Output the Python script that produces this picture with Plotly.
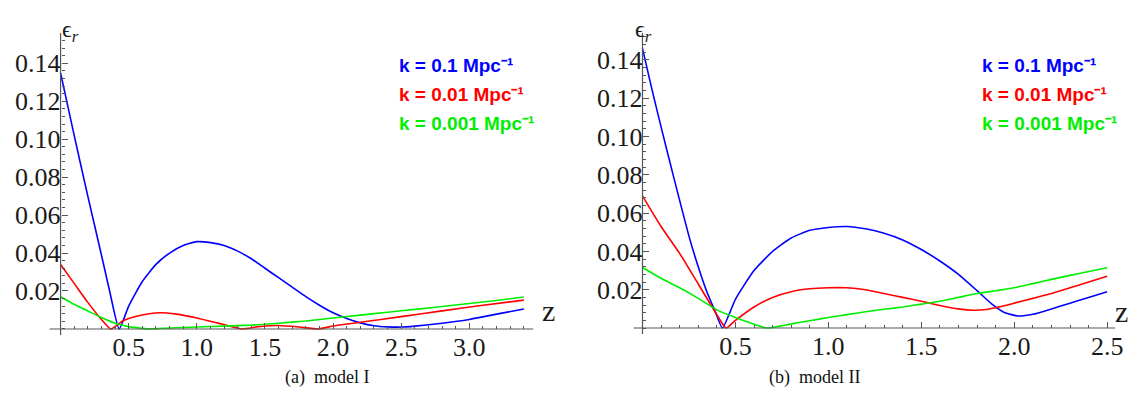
import plotly.graph_objects as go

# ---------------- data: model I ----------------
z1_blue = [0, 0.1, 0.2, 0.3, 0.36, 0.43, 0.5, 0.6, 0.7, 0.8, 0.9, 1.0, 1.1, 1.2, 1.3, 1.4, 1.5,
           1.6, 1.7, 1.8, 1.9, 2.0, 2.1, 2.2, 2.3, 2.4, 2.5, 2.6, 2.8, 3.0, 3.2, 3.4]
e1_blue = [0.135, 0.102, 0.070, 0.039, 0.020, 0.0, 0.012, 0.025, 0.034, 0.040, 0.044, 0.046,
           0.0455, 0.044, 0.041, 0.037, 0.032, 0.027, 0.022, 0.017, 0.0125, 0.0085, 0.0055, 0.0032,
           0.0017, 0.0011, 0.001, 0.0015, 0.003, 0.005, 0.0078, 0.0105]

z1_red = [0, 0.1, 0.2, 0.3, 0.37, 0.45, 0.55, 0.65, 0.73, 0.85, 1.0, 1.15, 1.33, 1.45, 1.6, 1.75,
          1.89, 2.0, 2.2, 2.5, 2.8, 3.1, 3.4]
e1_red = [0.034, 0.024, 0.014, 0.005, 0.0, 0.004, 0.0065, 0.008, 0.0085, 0.0078, 0.0058, 0.0032,
          0.0, 0.0012, 0.0018, 0.001, 0.0, 0.0015, 0.0035, 0.0065, 0.0095, 0.0125, 0.0152]

z1_green = [0, 0.1, 0.2, 0.3, 0.4, 0.5, 0.6, 0.66, 0.8, 1.0, 1.2, 1.4, 1.6, 1.8, 2.0, 2.2, 2.4, 2.6,
            2.8, 3.0, 3.2, 3.4]
e1_green = [0.017, 0.013, 0.0095, 0.006, 0.003, 0.0012, 0.0003, 0.0, 0.0005, 0.001, 0.0015, 0.002,
            0.003, 0.0042, 0.0058, 0.0073, 0.0088, 0.0103, 0.0118, 0.0134, 0.015, 0.0168]

# ---------------- data: model II ----------------
z2_blue = [0, 0.05, 0.1, 0.17, 0.25, 0.3, 0.35, 0.39, 0.43, 0.5, 0.6, 0.7, 0.8, 0.9, 1.0, 1.1, 1.2,
           1.3, 1.4, 1.5, 1.6, 1.7, 1.8, 1.88, 1.95, 2.02, 2.1, 2.2, 2.3, 2.4, 2.5]
e2_blue = [0.146, 0.125, 0.105, 0.078, 0.048, 0.032, 0.018, 0.009, 0.0, 0.015, 0.030, 0.040, 0.047,
           0.051, 0.0525, 0.053, 0.0518, 0.0495, 0.046, 0.041, 0.035, 0.028, 0.0195, 0.0125,
           0.0080, 0.0063, 0.0072, 0.0100, 0.0130, 0.0160, 0.019]

z2_red = [0, 0.1, 0.2, 0.3, 0.4, 0.45, 0.5, 0.6, 0.7, 0.8, 0.9, 1.0, 1.1, 1.2, 1.3, 1.4, 1.5, 1.6,
          1.7, 1.78, 1.85, 1.9, 2.0, 2.1, 2.2, 2.3, 2.4, 2.5]
e2_red = [0.069, 0.053, 0.039, 0.023, 0.007, 0.0, 0.004, 0.011, 0.016, 0.019, 0.0205, 0.021, 0.021,
          0.020, 0.018, 0.016, 0.014, 0.0118, 0.0100, 0.0093, 0.0097, 0.0106, 0.013, 0.0155, 0.018,
          0.021, 0.024, 0.027]

z2_green = [0, 0.1, 0.2, 0.3, 0.4, 0.5, 0.6, 0.67, 0.8, 0.9, 1.0, 1.1, 1.2, 1.3, 1.4, 1.5, 1.6, 1.7,
            1.8, 1.9, 2.0, 2.1, 2.2, 2.3, 2.4, 2.5]
e2_green = [0.0316, 0.026, 0.021, 0.0155, 0.0095, 0.0055, 0.002, 0.0, 0.0022, 0.0038, 0.0055, 0.007,
            0.0085, 0.0098, 0.011, 0.0125, 0.014, 0.016, 0.018, 0.0195, 0.021, 0.0232, 0.0254,
            0.0275, 0.0295, 0.0315]

legend_labels = ["k = 0.1 Mpc⁻¹", "k = 0.01 Mpc⁻¹", "k = 0.001 Mpc⁻¹"]
colors = ["#0000ff", "#ff0000", "#00ee00"]
captions = ["(a)  model I", "(b)  model II"]
x1_ticks = [0.5, 1.0, 1.5, 2.0, 2.5, 3.0]
x2_ticks = [0.5, 1.0, 1.5, 2.0, 2.5]
y_ticks = [0.02, 0.04, 0.06, 0.08, 0.10, 0.12, 0.14]

W, H = 1147, 408
SERIF = "Times New Roman, Liberation Serif, DejaVu Serif, serif"
fig = go.Figure()

panels = [
    ("x", "y", [(z1_blue, e1_blue), (z1_red, e1_red), (z1_green, e1_green)]),
    ("x2", "y2", [(z2_blue, e2_blue), (z2_red, e2_red), (z2_green, e2_green)]),
]
for xa, ya, series in panels:
    for (zz, ee), c in zip(series, colors):
        fig.add_trace(go.Scatter(x=zz, y=ee, mode="lines", xaxis=xa, yaxis=ya,
                                 line=dict(color=c, width=1.6, shape="spline", smoothing=0.5),
                                 showlegend=False, hoverinfo="skip"))

tickfont = dict(family=SERIF, size=26, color="#1a1a1a")
axcol = "#555555"

def xax(domain, rng, pos, tickvals):
    return dict(domain=domain, range=rng, anchor="free", position=pos,
                showline=False, zeroline=False, showgrid=False,
                tickmode="array", tickvals=tickvals, ticktext=[f"{v:.1f}" for v in tickvals],
                ticks="inside", ticklen=6, tickcolor=axcol, tickwidth=1,
                minor=dict(dtick=0.1, tick0=0, ticks="inside", ticklen=3, tickcolor=axcol),
                tickfont=tickfont, fixedrange=True)

def yax(domain, rng, pos):
    return dict(domain=domain, range=rng, anchor="free", position=pos,
                showline=False, zeroline=False, showgrid=False,
                tickmode="array", tickvals=y_ticks, ticktext=[f"{v:.2f}" for v in y_ticks],
                ticks="inside", ticklen=6, tickcolor=axcol, tickwidth=1,
                minor=dict(dtick=0.004, tick0=0, ticks="inside", ticklen=3, tickcolor=axcol),
                tickfont=tickfont, fixedrange=True)

# pixel geometry
L_y0, L_x0, L_xl, L_xr, L_top, L_bot = 61, 329, 50, 537, 33, 335
R_y0, R_x0, R_xl, R_xr, R_top, R_bot = 647, 328, 638, 1123, 33, 334

fig.update_layout(
    width=W, height=H, margin=dict(l=0, r=0, t=0, b=0),
    paper_bgcolor="white", plot_bgcolor="white",
    xaxis=xax([L_xl / W, L_xr / W], [-0.080, 3.469], 1 - L_x0 / H, x1_ticks),
    yaxis=yax([1 - L_bot / H, 1 - L_top / H], [-0.0032, 0.156], L_y0 / W),
    xaxis2=xax([R_xl / W, R_xr / W], [-0.048, 2.543], 1 - R_x0 / H, x2_ticks),
    yaxis2=yax([1 - R_bot / H, 1 - R_top / H], [-0.0031, 0.154], R_y0 / W),
)

# axis lines (drawn at the origin, like Mathematica axes)
for (y0, x0, xl, xr, top, bot) in [(L_y0, L_x0, L_xl, L_xr, L_top, L_bot),
                                   (R_y0, R_x0, R_xl, R_xr, R_top, R_bot)]:
    fig.add_shape(type="line", xref="paper", yref="paper", x0=xl / W, x1=xr / W,
                  y0=1 - x0 / H, y1=1 - x0 / H, line=dict(color=axcol, width=1.2))
    fig.add_shape(type="line", xref="paper", yref="paper", x0=y0 / W, x1=y0 / W,
                  y0=1 - bot / H, y1=1 - top / H, line=dict(color=axcol, width=1.2))

annos = []
# axis labels
for xp, zx, zy in [(60, 552, 329), (648, 1138, 330)]:
    annos.append(dict(text="ϵ<sub><i>r</i></sub>", x=xp / W, y=1 - 14 / H, xref="paper", yref="paper",
                      showarrow=False, font=dict(family=SERIF, size=24, color="#1a1a1a")))
    annos.append(dict(text="z", x=zx / W, y=1 - zy / H, xref="paper", yref="paper", showarrow=False,
                      font=dict(family=SERIF, size=30, color="#1a1a1a")))
# legends
for x_left in [400, 987]:
    for i, (lab, c) in enumerate(zip(legend_labels, colors)):
        annos.append(dict(text=f"<b>{lab}</b>", x=x_left / W, y=1 - (53 + 29 * i) / H,
                          xref="paper", yref="paper", xanchor="left", showarrow=False,
                          font=dict(family="Liberation Sans, Arial, sans-serif", size=19, color=c)))
# captions
for cap, cx in zip(captions, [285, 868]):
    annos.append(dict(text=cap, x=cx / W, y=1 - 390 / H, xref="paper", yref="paper",
                      showarrow=False, font=dict(family=SERIF, size=18, color="#111")))
fig.update_layout(annotations=annos)

fig.write_html("out.html")
